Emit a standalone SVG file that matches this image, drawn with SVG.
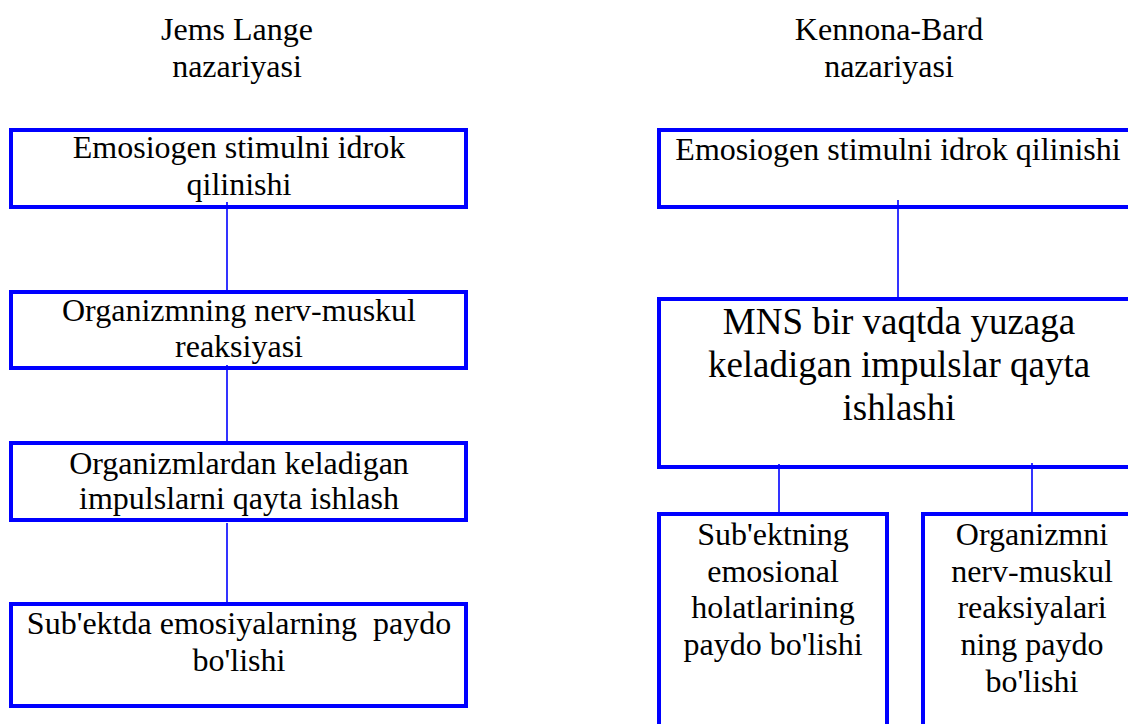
<svg xmlns="http://www.w3.org/2000/svg" width="1128" height="724" viewBox="0 0 1128 724">
<style>
.box{fill:#fff;stroke:#0000ff;stroke-width:4}
.con{stroke:#0000ff;stroke-width:1.6;fill:none}
text{font-family:"Liberation Serif","Times New Roman",Times,serif;font-size:32px;fill:#000;text-anchor:middle}
.big{font-size:37px}
</style>
<rect width="1128" height="724" fill="#fff"/>
<g id="title-left"><text x="237" y="40">Jems Lange</text><text x="237" y="77">nazariyasi</text></g>
<g id="title-right"><text x="889" y="40">Kennona-Bard</text><text x="889" y="77">nazariyasi</text></g>
<g id="l1"><rect class="box" x="11" y="130" width="455" height="77"/><text x="239" y="158">Emosiogen stimulni idrok</text><text x="239" y="195">qilinishi</text></g>
<g id="l2"><rect class="box" x="11" y="292" width="455" height="76"/><text x="239" y="321">Organizmning nerv-muskul</text><text x="239" y="357">reaksiyasi</text></g>
<g id="l3"><rect class="box" x="11" y="443" width="455" height="77"/><text x="239" y="474">Organizmlardan keladigan</text><text x="239" y="509">impulslarni qayta ishlash</text></g>
<g id="l4"><rect class="box" x="11" y="604" width="455" height="102"/><text x="239" y="634" xml:space="preserve">Sub'ektda emosiyalarning  paydo</text><text x="239" y="671">bo'lishi</text></g>
<g id="r1"><rect class="box" x="659" y="130" width="480" height="77"/><text x="898" y="160">Emosiogen stimulni idrok qilinishi</text></g>
<g id="r2"><rect class="box" x="659" y="299" width="480" height="168"/><text class="big" x="899" y="334">MNS bir vaqtda yuzaga</text><text class="big" x="899" y="377">keladigan impulslar qayta</text><text class="big" x="899" y="420">ishlashi</text></g>
<g id="r3"><rect class="box" x="659" y="514" width="228" height="240"/><text x="773" y="545">Sub'ektning</text><text x="773" y="582">emosional</text><text x="773" y="618">holatlarining</text><text x="773" y="655">paydo bo'lishi</text></g>
<g id="r4"><rect class="box" x="923" y="514" width="230" height="240"/><text x="1032" y="545">Organizmni</text><text x="1032" y="582">nerv-muskul</text><text x="1032" y="618">reaksiyalari</text><text x="1032" y="655">ning paydo</text><text x="1032" y="692">bo'lishi</text></g>
<g id="connectors">
<line class="con" x1="227" y1="202" x2="227" y2="291"/>
<line class="con" x1="227" y1="365" x2="227" y2="443"/>
<line class="con" x1="227" y1="523" x2="227" y2="604"/>
<line class="con" x1="898" y1="200" x2="898" y2="299"/>
<line class="con" x1="779" y1="464" x2="779" y2="514"/>
<line class="con" x1="1032" y1="463" x2="1032" y2="514"/>
</g>
</svg>
